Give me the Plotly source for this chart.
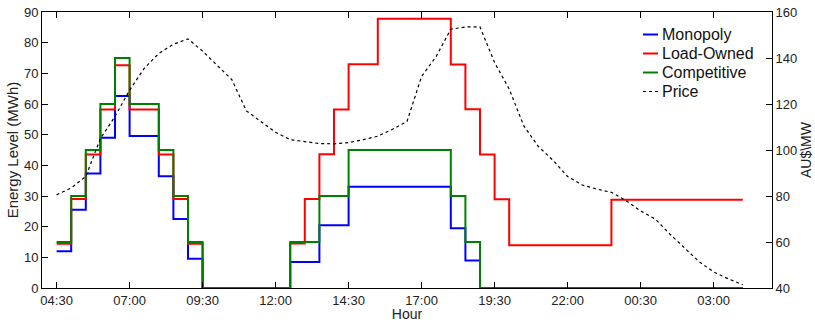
import plotly.graph_objects as go

# half-hour time points, hours since midnight (04:30 -> 28:00 next day)
hours = [4.5 + 0.5 * i for i in range(48)]

monopoly = [12, 25.5, 37.3, 49, 62.6, 49.6, 49.6, 36.4, 22.5, 9.5,
            0, 0, 0, 0, 0, 0,
            8.5, 8.5, 20.5, 20.5,
            33, 33, 33, 33, 33, 33, 33,
            19.5, 9,
            0, 0, 0, 0, 0, 0, 0, 0, 0, 0, 0, 0, 0, 0, 0, 0, 0, 0, 0]

load_owned = [14.4, 29, 43.5, 58.2, 72.6, 58.2, 58.2, 43.5, 29, 14.4,
              0, 0, 0, 0, 0, 0,
              14.5, 29, 43.6, 58.2,
              73, 73,
              87.8, 87.8, 87.8, 87.8, 87.8,
              72.9, 58.3, 43.5, 28.9,
              13.9, 13.9, 13.9, 13.9, 13.9, 13.9, 13.9,
              28.8, 28.8, 28.8, 28.8, 28.8, 28.8, 28.8, 28.8, 28.8, 28.8]

competitive = [15, 30, 45, 60, 75, 60, 60, 45, 30, 15,
               0, 0, 0, 0, 0, 0,
               15, 15, 30, 30,
               45, 45, 45, 45, 45, 45, 45,
               30, 15,
               0, 0, 0, 0, 0, 0, 0, 0, 0, 0, 0, 0, 0, 0, 0, 0, 0, 0, 0]

price = [80.5, 83.5, 88.5, 105, 114.6, 126, 135.5, 142, 146, 148.3,
         143, 137, 130.6, 117, 112.5, 107.7, 104.5, 103.5, 102.8, 102.7,
         103.2, 104.5, 106, 109, 112.4, 132, 140.7, 152.5, 153.5, 153.5,
         138, 126.5, 110.5, 101.5, 95.5, 88.5, 84.8, 83, 81.6, 78,
         73.5, 70, 63.5, 57.5, 51.5, 47, 44, 41.4]

tick_vals = [4.5, 7, 9.5, 12, 14.5, 17, 19.5, 22, 24.5, 27]
tick_text = ["04:30", "07:00", "09:30", "12:00", "14:30", "17:00",
             "19:30", "22:00", "00:30", "03:00"]

series_names = ["Monopoly", "Load-Owned", "Competitive", "Price"]
series_colors = ["#0000ff", "#ff0000", "#008000", "#000000"]

FONT = "Liberation Sans, Arial, sans-serif"

fig = go.Figure()
for name, vals, col in zip(series_names[:3], [monopoly, load_owned, competitive], series_colors[:3]):
    fig.add_trace(go.Scatter(x=hours, y=vals, name=name, mode="lines", showlegend=False,
                             line=dict(color=col, width=2, shape="hv")))
fig.add_trace(go.Scatter(x=hours, y=price, name=series_names[3], mode="lines", yaxis="y2",
                         showlegend=False,
                         line=dict(color=series_colors[3], width=1.2, dash="dot")))

# legend drawn in the upper-right corner of the plot area
L, R, T, B = 42, 43, 12, 34
W, H = 815 - L - R, 322 - T - B
def px_x(p):
    return (p - L) / W
def px_y(p):
    return (322 - B - p) / H

row_y = [34.5, 53.5, 72.5, 91.5]
shapes = []
annotations = []
for name, col, ry in zip(series_names, series_colors, row_y):
    shapes.append(dict(type="line", xref="paper", yref="paper",
                       x0=px_x(643), x1=px_x(658), y0=px_y(ry), y1=px_y(ry),
                       line=dict(color=col, width=2 if name != "Price" else 1.2,
                                 dash="solid" if name != "Price" else "dot")))
    annotations.append(dict(xref="paper", yref="paper", x=px_x(660), y=px_y(ry),
                            xanchor="left", yanchor="middle", showarrow=False,
                            text=name, font=dict(family=FONT, size=16, color="#111")))

axis_font = dict(family=FONT, size=13, color="#222")

fig.update_layout(
    width=815, height=322,
    margin=dict(l=L, r=R, t=T, b=B, autoexpand=False),
    paper_bgcolor="white", plot_bgcolor="white",
    font=axis_font,
    showlegend=False,
    shapes=shapes,
    annotations=annotations,
    xaxis=dict(range=[4, 29], tickmode="array", tickvals=tick_vals, ticktext=tick_text,
               ticks="inside", ticklen=6, tickcolor="#000", showline=True, linecolor="#000",
               linewidth=1, mirror="ticks", showgrid=False, zeroline=False, automargin=False,
               title=dict(text="Hour", font=dict(size=14), standoff=2)),
    yaxis=dict(range=[0, 90], dtick=10, ticks="inside", ticklen=6, tickcolor="#000",
               showline=True, linecolor="#000", linewidth=1, showgrid=False, zeroline=False,
               automargin=False,
               title=dict(text="Energy Level (MWh)", font=dict(size=15), standoff=1)),
    yaxis2=dict(range=[40, 160], dtick=20, overlaying="y", side="right",
                ticks="inside", ticklen=6, tickcolor="#000", showline=True, linecolor="#000",
                linewidth=1, showgrid=False, zeroline=False, automargin=False,
                title=dict(text="AU$\\MW", font=dict(size=14), standoff=4)),
)

fig.write_html("out.html")
